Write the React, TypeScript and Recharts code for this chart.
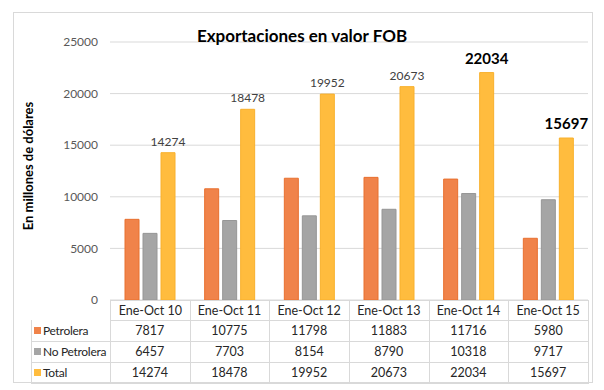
import React from "react";
import { BarChart, Bar, CartesianGrid, XAxis, YAxis, LabelList } from "recharts";

const categories = ["Ene-Oct 10", "Ene-Oct 11", "Ene-Oct 12", "Ene-Oct 13", "Ene-Oct 14", "Ene-Oct 15"];
const petrolera = [7817, 10775, 11798, 11883, 11716, 5980];
const noPetrolera = [6457, 7703, 8154, 8790, 10318, 9717];
const total = [14274, 18478, 19952, 20673, 22034, 15697];
const yTicks = [0, 5000, 10000, 15000, 20000, 25000];
// etiquetas en negrita (las dos últimas)
const boldLabels = [false, false, false, false, true, true];

const series = [
  { key: "Petrolera", name: "Petrolera", values: petrolera, color: "#F0834A", edge: "#E8702F" },
  { key: "NoPetrolera", name: "No Petrolera", values: noPetrolera, color: "#A5A5A5", edge: "#969696" },
  { key: "Total", name: "Total", values: total, color: "#FFBC3E", edge: "#F8B02C" },
];

const data = categories.map((cat, i) => ({
  cat,
  Petrolera: petrolera[i],
  NoPetrolera: noPetrolera[i],
  Total: total[i],
}));

const FONT = "Lato, 'Noto Sans', sans-serif";
const PLOT_LEFT = 110;
const PLOT_RIGHT = 588;
const PLOT_BOTTOM = 300;
const COL_W = (PLOT_RIGHT - PLOT_LEFT) / categories.length;
const GRID = "#D9D9D9";

const TotalLabel = (props: any) => {
  const { x, y, width, value, index } = props;
  const bold = boldLabels[index];
  return (
    <text
      x={x + width / 2}
      y={y - (bold ? 9 : 7)}
      textAnchor="middle"
      fontFamily={FONT}
      fontSize={bold ? 15 : 12}
      fontWeight={bold ? 700 : 400}
      fill={bold ? "#000" : "#404040"}
    >
      {value}
    </text>
  );
};

export default function App() {
  const cellBase: React.CSSProperties = {
    position: "absolute",
    boxSizing: "border-box",
    fontSize: 12.5,
    color: "#262626",
    display: "flex",
    alignItems: "center",
    justifyContent: "center",
    whiteSpace: "nowrap",
    borderRight: `1px solid ${GRID}`,
    borderBottom: `1px solid ${GRID}`,
  };
  const rowTops = [320, 341, 362];
  const rowH = 21;

  return (
    <div
      style={{
        position: "absolute",
        left: 0,
        top: 0,
        width: 604,
        height: 390,
        background: "#fff",
        fontFamily: FONT,
      }}
    >
      <div
        style={{
          position: "absolute",
          left: 13,
          top: 12,
          width: 580,
          height: 371,
          boxSizing: "border-box",
          border: `1px solid ${GRID}`,
        }}
      />
      <BarChart
        width={604}
        height={390}
        data={data}
        margin={{ top: 42, right: 604 - PLOT_RIGHT, bottom: 390 - PLOT_BOTTOM, left: 50 }}
        barSize={14}
        barGap={4}
        style={{ position: "absolute", left: 0, top: 0 }}
      >
        <CartesianGrid stroke={GRID} vertical={false} />
        <XAxis dataKey="cat" hide />
        <YAxis
          width={60}
          domain={[0, 25000]}
          ticks={yTicks}
          axisLine={false}
          tickLine={false}
          tickMargin={6}
          tick={{ fill: "#595959", fontSize: 12, fontFamily: FONT }}
        />
        {series.map((s) => (
          <Bar
            key={s.key}
            dataKey={s.key}
            name={s.name}
            fill={s.color}
            stroke={s.edge}
            strokeWidth={1}
            isAnimationActive={false}
          >
            {s.key === "Total" && <LabelList dataKey="Total" content={TotalLabel} />}
          </Bar>
        ))}
      </BarChart>

      {/* título */}
      <div
        style={{
          position: "absolute",
          left: 0,
          width: 604,
          top: 25,
          textAlign: "center",
          fontSize: 17,
          fontWeight: 700,
          color: "#000",
        }}
      >
        Exportaciones en valor FOB
      </div>

      {/* eje Y */}
      <div
        style={{
          position: "absolute",
          left: 28,
          top: 166,
          transform: "translate(-50%, -50%) rotate(-90deg)",
          whiteSpace: "nowrap",
          fontSize: 13,
          fontWeight: 700,
          color: "#000",
        }}
      >
        En millones de dólares
      </div>

      {/* tabla de datos */}
      {categories.map((c, i) => (
        <div
          key={c}
          style={{
            ...cellBase,
            left: PLOT_LEFT + i * COL_W,
            top: PLOT_BOTTOM,
            width: COL_W + 1,
            height: 21,
            borderTop: `1px solid ${GRID}`,
            borderLeft: i === 0 ? `1px solid ${GRID}` : undefined,
          }}
        >
          {c}
        </div>
      ))}
      {series.map((s, r) => (
        <React.Fragment key={s.key}>
          <div
            style={{
              ...cellBase,
              left: 31,
              top: rowTops[r],
              width: PLOT_LEFT - 31 + 1,
              height: rowH + 1,
              borderLeft: `1px solid ${GRID}`,
              justifyContent: "flex-start",
              paddingLeft: 2,
              fontSize: 12,
              letterSpacing: -0.3,
              overflow: "hidden",
            }}
          >
            <span
              style={{
                display: "inline-block",
                flex: "0 0 auto",
                width: 7,
                height: 7,
                background: s.color,
                marginRight: 2,
              }}
            />
            {s.name}
          </div>
          {s.values.map((v, i) => (
            <div
              key={i}
              style={{
                ...cellBase,
                left: PLOT_LEFT + i * COL_W,
                top: rowTops[r],
                width: COL_W + 1,
                height: rowH + 1,
              }}
            >
              {v}
            </div>
          ))}
        </React.Fragment>
      ))}
    </div>
  );
}
